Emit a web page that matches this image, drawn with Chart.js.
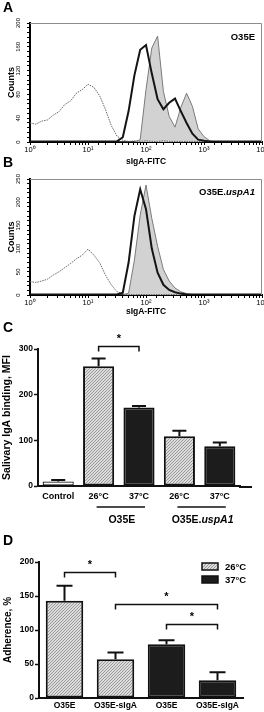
<!DOCTYPE html>
<html>
<head>
<meta charset="utf-8">
<title>sIgA binding and adherence</title>
<script src="https://cdn.jsdelivr.net/npm/chart.js@4.4.1/dist/chart.umd.min.js"></script>
<style>
  html, body { margin: 0; padding: 0; background: #fff; }
  #fig { position: relative; width: 264px; height: 712px; overflow: hidden; font-family: "Liberation Sans", Arial, sans-serif; }
  #fig canvas { position: absolute; left: 0; }
  .panel { position: absolute; left: 3px; font-size: 14px; font-weight: bold; line-height: 14px; }
  .strain { position: absolute; right: 9px; font-size: 9.5px; font-weight: bold; line-height: 9.5px; }
</style>
</head>
<body>
<div id="fig">
  <canvas id="histA" width="264" height="168" style="top:0"></canvas>
  <canvas id="histB" width="264" height="152" style="top:168px"></canvas>
  <canvas id="mfiC" width="264" height="210" style="top:320px"></canvas>
  <canvas id="adhD" width="264" height="182" style="top:530px"></canvas>
  <div class="panel" style="top:0">A</div>
  <div class="panel" style="top:155px">B</div>
  <div class="panel" style="top:320px">C</div>
  <div class="panel" style="top:533px">D</div>
  <div class="strain" style="top:32px">O35E</div>
  <div class="strain" style="top:187px">O35E.<i>uspA1</i></div>
</div>
<script>
// Flow histograms: x is log10 of the sIgA-FITC channel
const fitcLog = [0, 0.1, 0.2, 0.3, 0.4, 0.5, 0.6, 0.7, 0.8, 0.9, 1, 1.1, 1.2, 1.3, 1.4, 1.5, 1.6, 1.7, 1.8, 1.9,
                 2, 2.1, 2.2, 2.3, 2.4, 2.5, 2.6, 2.7, 2.8, 2.9, 3, 3.1, 3.2, 3.3, 3.4, 3.5, 3.6, 3.7, 3.8, 3.9, 4];

// panel A (O35E)
const countsCtrlA = [32, 30, 35, 37, 45, 51, 63, 69, 82, 88, 97, 92, 78, 55, 28, 10, 3, 1, 2, 1,
                     2, 1, 1, 2, 1, 1, 1, 1, 1, 1, 0, 0, 0, 0, 0, 0, 0, 0, 0, 0, 0];
const countsOpenA = [1, 1, 1, 1, 1, 1, 1, 1, 1, 1, 1, 1, 1, 1, 1, 1, 8, 52, 112, 155,
                     163, 115, 72, 55, 66, 73, 52, 32, 14, 4, 2, 1, 1, 1, 1, 1, 1, 1, 1, 1, 1];
const countsFilledA = [0, 0, 0, 0, 0, 0, 0, 0, 0, 0, 0, 0, 0, 0, 0, 0, 0, 0, 0, 4,
                       88, 158, 178, 85, 43, 25, 58, 82, 60, 22, 9, 2, 0, 0, 0, 0, 0, 0, 0, 0, 0];

// panel B (O35E.uspA1)
const countsCtrlB = [29, 27, 30, 34, 43, 50, 59, 68, 78, 86, 99, 86, 70, 43, 22, 7, 2, 1, 1, 1,
                     1, 1, 1, 1, 1, 1, 0, 0, 0, 0, 0, 0, 0, 0, 0, 0, 0, 0, 0, 0, 0];
const countsOpenB = [1, 1, 1, 1, 1, 1, 1, 1, 1, 1, 1, 1, 1, 1, 1, 1, 5, 70, 170, 228,
                     185, 100, 48, 22, 11, 6, 3, 1, 1, 1, 1, 1, 1, 1, 1, 1, 1, 1, 1, 1, 1];
const countsFilledB = [0, 0, 0, 0, 0, 0, 0, 0, 0, 0, 0, 0, 0, 0, 0, 0, 0, 4, 75, 172,
                       237, 165, 105, 55, 30, 15, 7, 3, 1, 0, 0, 0, 0, 0, 0, 0, 0, 0, 0, 0, 0];

const yTicksA = [0, 40, 80, 120, 160, 200];
const yTicksB = [0, 50, 100, 150, 200, 250];

// panel C: salivary IgA binding (MFI)
const mfiLabels = ['Control', '26°C', '37°C', '26°C', '37°C'];
const mfiMean = [10, 262, 172, 109, 87];
const mfiSem = [3, 17, 3, 12, 8];
const strainNames = [['O35E', ''], ['O35E.', 'uspA1']];

// panel D: adherence (%)
const adhLabels = ['O35E', 'O35E-sIgA', 'O35E', 'O35E-sIgA'];
const adhMean = [143, 57, 79, 26];
const adhSem = [22, 10, 6, 12];
const tempLabels = ['26°C', '37°C'];

const FONT = '"Liberation Sans", Arial, sans-serif';
const sup = ['\u2070', '\u00b9', '\u00b2', '\u00b3', '\u2074'];
Chart.defaults.font.family = FONT;
Chart.defaults.color = '#000';

function makeHatch() {
    const c = document.createElement('canvas');
    c.width = 3; c.height = 3;
    const g = c.getContext('2d');
    g.fillStyle = '#dcdcdc';
    g.fillRect(0, 0, 3, 3);
    g.strokeStyle = '#9a9a9a';
    g.lineWidth = 1;
    g.beginPath();
    g.moveTo(0, 3); g.lineTo(3, 0);
    g.moveTo(-1, 1); g.lineTo(1, -1);
    g.moveTo(2, 4); g.lineTo(4, 2);
    g.stroke();
    return g.createPattern(c, 'repeat');
}
const hatch = makeHatch();
const solid = '#1c1c1c';

// thin grey frame + rotated y tick labels of the histograms
const histFrame = {
    id: 'histFrame',
    afterDraw(chart, args, opts) {
        const { ctx, chartArea: a, scales: { y } } = chart;
        ctx.save();
        ctx.strokeStyle = '#8c8c8c';
        ctx.lineWidth = 1;
        ctx.beginPath();
        ctx.moveTo(a.left, a.top + 0.5);
        ctx.lineTo(a.right - 0.5, a.top + 0.5);
        ctx.lineTo(a.right - 0.5, a.bottom);
        ctx.stroke();
        ctx.fillStyle = '#000';
        ctx.font = '6px ' + FONT;
        ctx.textAlign = 'center';
        ctx.textBaseline = 'middle';
        opts.ticks.forEach(v => {
            ctx.save();
            ctx.translate(18, y.getPixelForValue(v));
            ctx.rotate(-Math.PI / 2);
            ctx.fillText(String(v), 0, 0);
            ctx.restore();
        });
        ctx.restore();
    }
};

function points(counts) {
    return fitcLog.map((e, i) => ({ x: Math.pow(10, e), y: counts[i] }));
}

function histogram(id, ctrl, open, filled, yMax, minorStep, yTicks, plotTop, plotBottom, titlePad) {
    const canvas = document.getElementById(id);
    const xAxisHeight = canvas.height - plotBottom;
    return new Chart(canvas, {
        type: 'line',
        data: {
            datasets: [
                { data: points(open), borderColor: '#141414', borderWidth: 2, pointRadius: 0, fill: false },
                { data: points(ctrl), borderColor: '#666666', borderWidth: 1, borderDash: [1.5, 1], pointRadius: 0, fill: false },
                { data: points(filled), borderColor: '#7a7a7a', borderWidth: 1, backgroundColor: '#d2d2d2', pointRadius: 0, fill: 'origin' }
            ]
        },
        options: {
            responsive: false,
            animation: false,
            events: [],
            layout: { padding: { left: 0, right: 2, top: plotTop, bottom: 0 } },
            plugins: {
                legend: { display: false },
                tooltip: { enabled: false },
                histFrame: { ticks: yTicks }
            },
            scales: {
                x: {
                    type: 'logarithmic',
                    min: 1,
                    max: 10000,
                    ticks: {
                        autoSkip: false,
                        maxRotation: 0,
                        minRotation: 0,
                        padding: 0,
                        font: { size: 7.5 },
                        callback: v => {
                            const e = Math.log10(v);
                            return Math.abs(e - Math.round(e)) < 1e-6 ? '10' + sup[Math.round(e)] : '';
                        }
                    },
                    grid: { drawOnChartArea: false, tickLength: 3, color: '#000' },
                    border: { color: '#000', width: 2 },
                    title: { display: true, text: 'sIgA-FITC', font: { size: 8.5, weight: 'bold' }, padding: { top: 0, bottom: titlePad } },
                    afterFit: s => { s.height = xAxisHeight; s.paddingLeft = 0; s.paddingRight = 0; }
                },
                y: {
                    min: 0,
                    max: yMax,
                    ticks: { display: false, stepSize: minorStep },
                    grid: { drawOnChartArea: false, tickLength: 3, color: '#000' },
                    border: { color: '#000', width: 2 },
                    title: { display: true, text: 'Counts', font: { size: 9, weight: 'bold' }, padding: { top: 6, bottom: 0 } },
                    afterFit: s => { s.width = 30; s.paddingTop = 0; s.paddingBottom = 0; }
                }
            }
        },
        plugins: [histFrame]
    });
}

histogram('histA', countsCtrlA, countsOpenA, countsFilledA, 200, 8, yTicksA, 23, 142, 1);
histogram('histB', countsCtrlB, countsOpenB, countsFilledB, 250, 10, yTicksB, 11, 127, 3);

// error bars, significance brackets, group underlines and legend for the bar panels
const barMarks = {
    id: 'barMarks',
    afterDatasetsDraw(chart, args, o) {
        const { ctx, chartArea: a, scales: { y } } = chart;
        const bars = chart.getDatasetMeta(0).data;
        ctx.save();
        ctx.strokeStyle = '#111';
        ctx.fillStyle = '#000';
        ctx.lineWidth = 2;
        o.mean.forEach((m, i) => {
            const bx = bars[i].x;
            const y0 = y.getPixelForValue(m);
            const y1 = y.getPixelForValue(m + o.sem[i]);
            ctx.beginPath();
            ctx.moveTo(bx, y0); ctx.lineTo(bx, y1);
            ctx.moveTo(bx - o.cap / 2, y1); ctx.lineTo(bx + o.cap / 2, y1);
            ctx.stroke();
        });

        if (o.axisEnd) {
            ctx.beginPath();
            ctx.moveTo(a.right - 1, a.bottom + 1);
            ctx.lineTo(o.axisEnd, a.bottom + 1);
            ctx.stroke();
        }

        ctx.lineWidth = 1.5;
        ctx.textAlign = 'center';
        ctx.textBaseline = 'middle';
        (o.brackets || []).forEach(([i, j, level]) => {
            const xa = bars[i].x, xb = bars[j].x;
            const yy = Math.round(y.getPixelForValue(level)) + 0.5;
            ctx.beginPath();
            ctx.moveTo(xa, yy + 5); ctx.lineTo(xa, yy); ctx.lineTo(xb, yy); ctx.lineTo(xb, yy + 5);
            ctx.stroke();
            ctx.font = 'bold 11px ' + FONT;
            ctx.fillText('*', (xa + xb) / 2, yy - 8);
        });

        (o.groups || []).forEach(g => {
            const x1 = bars[g.from].x, x2 = bars[g.to].x;
            const mid = (x1 + x2) / 2 + 2;
            const half = (x2 - x1) / 2 + 4;
            ctx.lineWidth = 1.5;
            ctx.beginPath();
            ctx.moveTo(mid - half, a.bottom + 21);
            ctx.lineTo(mid + half, a.bottom + 21);
            ctx.stroke();
            ctx.textAlign = 'left';
            ctx.font = 'bold 10.5px ' + FONT;
            const w1 = ctx.measureText(g.name[0]).width;
            ctx.font = 'italic bold 10.5px ' + FONT;
            const w2 = ctx.measureText(g.name[1]).width;
            const sx = mid + 1 - (w1 + w2) / 2;
            ctx.font = 'bold 10.5px ' + FONT;
            ctx.fillText(g.name[0], sx, a.bottom + 34);
            ctx.font = 'italic bold 10.5px ' + FONT;
            ctx.fillText(g.name[1], sx + w1, a.bottom + 34);
        });

        if (o.legend) {
            const L = o.legend;
            ctx.textAlign = 'left';
            ctx.font = 'bold 9.5px ' + FONT;
            ctx.lineWidth = 1.5;
            L.labels.forEach((t, k) => {
                const top = L.y + k * 13;
                ctx.fillStyle = L.fills[k];
                ctx.fillRect(L.x, top, 16, 7);
                ctx.strokeRect(L.x, top, 16, 7);
                ctx.fillStyle = '#000';
                ctx.fillText(t, L.x + 23, top + 4);
            });
        }
        ctx.restore();
    }
};

function barAxes(yCfg, xCfg) {
    return {
        x: {
            grid: { display: false, drawTicks: false },
            border: { color: '#111', width: 2 },
            ticks: { font: { size: xCfg.font, weight: 'bold' }, padding: xCfg.pad, maxRotation: 0, autoSkip: false },
            afterFit: s => { s.height = xCfg.height; s.paddingLeft = 0; s.paddingRight = 0; }
        },
        y: {
            min: 0,
            max: yCfg.max,
            ticks: { stepSize: yCfg.step, font: { size: 8.5, weight: 'bold' }, padding: 1 },
            grid: { drawOnChartArea: false, tickLength: 4, color: '#111', tickWidth: 1.5 },
            border: { color: '#111', width: 2 },
            title: { display: true, text: yCfg.title, font: { size: yCfg.titleSize, weight: 'bold' }, padding: { top: yCfg.titlePad, bottom: 0 } },
            afterFit: s => { s.width = yCfg.width; s.paddingTop = 0; s.paddingBottom = 0; }
        }
    };
}

new Chart(document.getElementById('mfiC'), {
    type: 'bar',
    data: {
        labels: mfiLabels,
        datasets: [{
            data: mfiMean,
            backgroundColor: ['#ffffff', hatch, solid, hatch, solid],
            borderColor: '#111',
            borderWidth: [1.2, 2, 2, 2, 2],
            borderSkipped: false,
            barPercentage: 0.77,
            categoryPercentage: 1
        }]
    },
    options: {
        responsive: false,
        animation: false,
        events: [],
        layout: { padding: { left: 0, right: 24, top: 29, bottom: 0 } },
        plugins: {
            legend: { display: false },
            tooltip: { enabled: false },
            barMarks: {
                mean: mfiMean,
                sem: mfiSem,
                cap: 14,
                axisEnd: 252,
                brackets: [[1, 2, 306]],
                groups: [{ from: 1, to: 2, name: strainNames[0] }, { from: 3, to: 4, name: strainNames[1] }]
            }
        },
        scales: barAxes(
            { max: 300, step: 100, title: 'Salivary IgA binding, MFI', titleSize: 10.5, titlePad: 1, width: 38 },
            { font: 9, pad: 5, height: 44 }
        )
    },
    plugins: [barMarks]
});

new Chart(document.getElementById('adhD'), {
    type: 'bar',
    data: {
        labels: adhLabels,
        datasets: [{
            data: adhMean,
            backgroundColor: [hatch, hatch, solid, solid],
            borderColor: '#111',
            borderWidth: 2,
            borderSkipped: false,
            barPercentage: 0.735,
            categoryPercentage: 1
        }]
    },
    options: {
        responsive: false,
        animation: false,
        events: [],
        layout: { padding: { left: 0, right: 21, top: 32, bottom: 0 } },
        plugins: {
            legend: { display: false },
            tooltip: { enabled: false },
            barMarks: {
                mean: adhMean,
                sem: adhSem,
                cap: 16,
                brackets: [[0, 1, 185], [1, 3, 138], [2, 3, 109]],
                legend: { labels: tempLabels, fills: [hatch, solid], x: 202, y: 33 }
            }
        },
        scales: barAxes(
            { max: 200, step: 50, title: 'Adherence, %', titleSize: 10, titlePad: 2, width: 39 },
            { font: 8.5, pad: 3, height: 14 }
        )
    },
    plugins: [barMarks]
});
</script>
</body>
</html>
